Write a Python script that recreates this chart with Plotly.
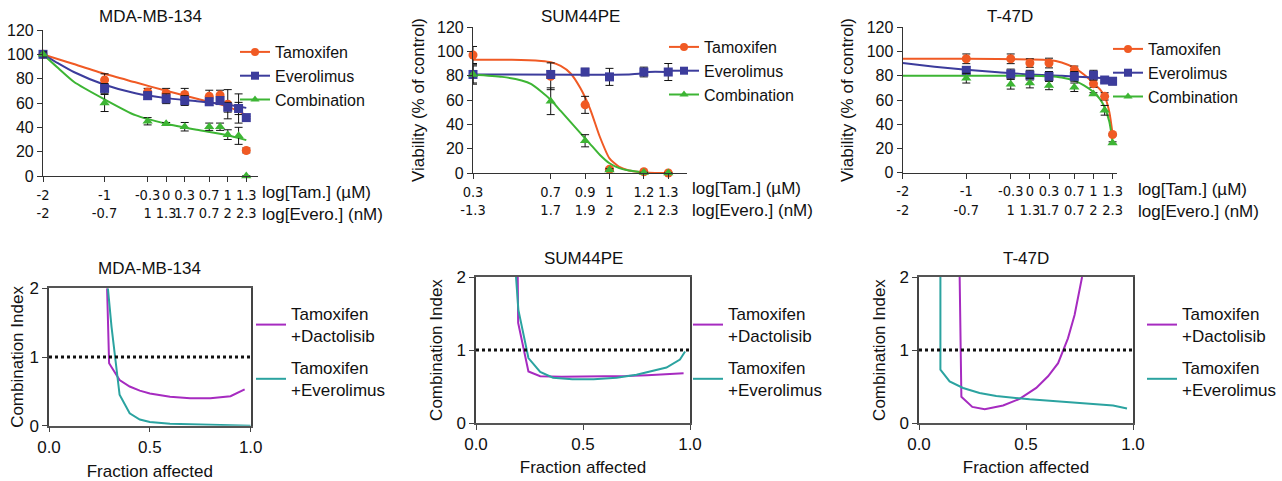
import plotly.graph_objects as go

W, H = 1282, 481
def px(x): return x / W
def py(y): return 1 - y / H

# ---------------- data: viability (top row) ----------------
PANEL_TITLES = ["MDA-MB-134", "SUM44PE", "T-47D"]

# MDA-MB-134
MDA_LOG = [-2, -1, -0.301, 0, 0.301, 0.699, 0.875, 1, 1.176, 1.301]
MDA_TAM = [100, 79, 69, 68, 67, 65.5, 66.5, 59, 55.5, 21]
MDA_TAM_ERR = [2, 5, 3, 4, 5, 5, 4, 12, 12, 2]
MDA_EVE = [100, 72, 66, 63.5, 62, 61, 62, 56.5, 55.5, 48]
MDA_EVE_ERR = [2, 4, 3, 4, 4, 3, 3, 4, 5, 1]
MDA_COM = [100, 60, 45, 43, 40.5, 40.5, 40.5, 34, 33, 0]
MDA_COM_ERR = [2, 7, 3, 1, 3.5, 3, 3, 4, 7, 0]
MDA_FIT_X = [-2, -1.75, -1.5, -1, -0.5, 0, 0.5, 1, 1.301]
MDA_FIT_TAM = [100, 96, 92, 84, 77, 70, 63.5, 57, 50]
MDA_FIT_EVE = [100, 92.5, 85.5, 75, 68, 64, 61.5, 58.5, 56]
MDA_FIT_COM = [100, 88.5, 77.5, 63, 50, 43, 38, 33.5, 29.5]
MDA_TICKVALS = [-2, -1, -0.301, 0, 0.301, 0.699, 1, 1.301]
MDA_TICK_TAM = ["-2", "-1", "-0.3", "0", "0.3", "0.7", "1", "1.3"]
MDA_TICK_EVE = ["-2", "-0.7", "1", "1.3", "1.7", "0.7", "2", "2.3"]

# SUM44PE
SUM_LOG = [0.301, 0.699, 0.875, 1, 1.176, 1.301]
SUM_TAM = [97, 79.5, 56, 3, 1, 0]
SUM_TAM_ERR = [7, 11, 7, 1, 0.5, 0]
SUM_EVE = [81, 81, 83, 79, 83, 83]
SUM_EVE_ERR = [7, 3, 3, 7, 4, 7]
SUM_COM = [81, 59, 26.5, 2.5, 0.5, 0]
SUM_COM_ERR = [8, 11, 5, 1, 0, 0]
SUM_FIT_TAM_X = [0.301, 0.5, 0.65, 0.7, 0.75, 0.8, 0.85, 0.9, 0.95, 1.0, 1.05, 1.1, 1.15, 1.2, 1.301]
SUM_FIT_TAM = [93, 93, 92, 91, 88, 82, 70, 53, 30, 12, 5, 2, 0.8, 0.3, 0]
SUM_FIT_EVE_X = [0.301, 1.1, 1.15, 1.2, 1.301]
SUM_FIT_EVE = [81, 81, 81.5, 83, 83]
SUM_FIT_COM_X = [0.301, 0.45, 0.55, 0.6, 0.65, 0.7, 0.75, 0.8, 0.85, 0.9, 0.95, 1.0, 1.05, 1.1, 1.2]
SUM_FIT_COM = [81, 79, 76, 73, 67, 60, 51, 42, 33, 24, 15, 8, 4, 2, 0]
SUM_TICKVALS = [0.301, 0.699, 0.875, 1, 1.176, 1.301]
SUM_TICK_TAM = ["0.3", "0.7", "0.9", "1", "1.2", "1.3"]
SUM_TICK_EVE = ["-1.3", "1.7", "1.9", "2", "2.1", "2.3"]

# T-47D
T47_LOG = [-1, -0.301, 0, 0.301, 0.699, 1, 1.176, 1.301]
T47_TAM = [94, 94, 90.5, 90.5, 85, 73.5, 63, 31.5]
T47_TAM_ERR = [4, 4, 3.5, 4, 3, 3, 3, 1]
T47_EVE = [84.5, 81.5, 80.5, 79.5, 79.5, 80.5, 76.5, 75.5]
T47_EVE_ERR = [3, 4, 4, 4, 4, 4, 2, 3]
T47_COM = [78, 73, 74, 72, 70.5, 65, 51.5, 24.5]
T47_COM_ERR = [4, 4, 4, 3.5, 3.5, 1, 4, 1]
T47_FIT_X = [-2, -1, 0, 0.3, 0.5, 0.7, 0.85, 1.0, 1.1, 1.176, 1.25, 1.301]
T47_FIT_TAM = [94, 94, 93.5, 93, 91, 86.5, 81, 74, 69, 63, 50, 32]
T47_FIT_COM = [80, 80, 80, 79.5, 78.5, 76, 72, 66.5, 61, 54, 42, 25]
T47_FIT_EVE_X = [-2, -1.5, -1, -0.5, 0, 0.5, 1, 1.301]
T47_FIT_EVE = [90.5, 87.5, 85, 83, 81, 80, 78.5, 77.5]
T47_TICKVALS = MDA_TICKVALS
T47_TICK_TAM = MDA_TICK_TAM
T47_TICK_EVE = MDA_TICK_EVE

SERIES = ["Tamoxifen", "Everolimus", "Combination"]
Y_TICKS = [0, 20, 40, 60, 80, 100, 120]
X_LABEL_TEXT = "log[Tam.] (µM)<br>log[Evero.] (nM)"

# ---------------- data: combination index (bottom row) ----------------
CI_NAMES = ["Tamoxifen<br>+Dactolisib", "Tamoxifen<br>+Everolimus"]
CI_THRESHOLD = 1

MDA_DAC_FA = [0.288, 0.298, 0.35, 0.4, 0.45, 0.5, 0.6, 0.7, 0.8, 0.9, 0.97]
MDA_DAC_CI = [2.0, 0.91, 0.665, 0.57, 0.51, 0.47, 0.42, 0.40, 0.40, 0.43, 0.53]
MDA_EVE_FA = [0.292, 0.31, 0.35, 0.40, 0.45, 0.5, 0.6, 0.7, 0.8, 0.9, 1.0]
MDA_EVE_CI = [2.0, 1.44, 0.45, 0.18, 0.09, 0.055, 0.03, 0.02, 0.01, 0.005, 0.0]

SUM_DAC_FA = [0.195, 0.197, 0.245, 0.30, 0.4, 0.5, 0.6, 0.7, 0.8, 0.9, 0.97]
SUM_DAC_CI = [2.0, 1.37, 0.705, 0.64, 0.635, 0.635, 0.64, 0.645, 0.655, 0.665, 0.68]
SUM_EVE_FA = [0.187, 0.198, 0.245, 0.30, 0.36, 0.45, 0.55, 0.657, 0.75, 0.81, 0.89, 0.953, 0.977]
SUM_EVE_CI = [2.0, 1.55, 0.89, 0.70, 0.62, 0.60, 0.60, 0.62, 0.66, 0.70, 0.76, 0.87, 0.98]

T47_DAC_FA = [0.19, 0.198, 0.249, 0.307, 0.393, 0.47, 0.548, 0.603, 0.65, 0.696, 0.727, 0.751, 0.762]
T47_DAC_CI = [2.0, 0.36, 0.22, 0.19, 0.24, 0.33, 0.48, 0.64, 0.82, 1.16, 1.48, 1.83, 2.0]
T47_EVE_FA = [0.1, 0.1, 0.143, 0.206, 0.283, 0.361, 0.517, 0.673, 0.829, 0.907, 0.972]
T47_EVE_CI = [2.0, 0.73, 0.57, 0.48, 0.41, 0.37, 0.325, 0.29, 0.26, 0.24, 0.20]

# ---------------- style ----------------
FONT = "Liberation Sans, Arial, Helvetica, sans-serif"
NARROW = "Liberation Sans Narrow, Arial Narrow, DejaVu Sans Condensed, Liberation Sans, Arial, sans-serif"
TXT = "#111"
C_TAM, C_EVE, C_COM = "#F05A24", "#3C3C9C", "#3DB534"
C_DAC, C_TEAL = "#A62BC0", "#2BA3A0"
SYMBOLS = ["circle", "square", "triangle-up"]
COLORS = [C_TAM, C_EVE, C_COM]

fig = go.Figure()

top = [
    dict(log=MDA_LOG, pts=[MDA_TAM, MDA_EVE, MDA_COM], err=[MDA_TAM_ERR, MDA_EVE_ERR, MDA_COM_ERR],
         fx=[MDA_FIT_X, MDA_FIT_X, MDA_FIT_X], fy=[MDA_FIT_TAM, MDA_FIT_EVE, MDA_FIT_COM],
         tv=MDA_TICKVALS, t1=MDA_TICK_TAM, t2=MDA_TICK_EVE, rng=[-2, 1.496],
         xd=[px(43), px(258.3)], yd=[py(176), py(30)], ytitle=None,
         leg=(px(235), py(35)), lab=(260, 203)),
    dict(log=SUM_LOG, pts=[SUM_TAM, SUM_EVE, SUM_COM], err=[SUM_TAM_ERR, SUM_EVE_ERR, SUM_COM_ERR],
         fx=[SUM_FIT_TAM_X, SUM_FIT_EVE_X, SUM_FIT_COM_X], fy=[SUM_FIT_TAM, SUM_FIT_EVE, SUM_FIT_COM],
         tv=SUM_TICKVALS, t1=SUM_TICK_TAM, t2=SUM_TICK_EVE, rng=[0.301, 1.397],
         xd=[px(473), px(687)], yd=[py(173), py(27)], ytitle="Viability (% of control)",
         leg=(px(664), py(30)), lab=(690, 199)),
    dict(log=T47_LOG, pts=[T47_TAM, T47_EVE, T47_COM], err=[T47_TAM_ERR, T47_EVE_ERR, T47_COM_ERR],
         fx=[T47_FIT_X, T47_FIT_EVE_X, T47_FIT_X], fy=[T47_FIT_TAM, T47_FIT_EVE, T47_FIT_COM],
         tv=T47_TICKVALS, t1=T47_TICK_TAM, t2=T47_TICK_EVE, rng=[-2, 1.375],
         xd=[px(902.7), px(1117.3)], yd=[py(172.7), py(27.3)], ytitle="Viability (% of control)",
         leg=(px(1108), py(32)), lab=(1136, 200)),
]

annotations = []
shapes = []
layout = {}

for i, p in enumerate(top, start=1):
    xa, ya = f"x{i}", f"y{i}"
    for k in range(3):
        fig.add_trace(go.Scatter(x=p["fx"][k], y=p["fy"][k], mode="lines", xaxis=xa, yaxis=ya,
                                 line=dict(color=COLORS[k], width=2, shape="spline", smoothing=0.6),
                                 showlegend=False, hoverinfo="skip"))
    for k in range(3):
        fig.add_trace(go.Scatter(x=p["log"], y=p["pts"][k], mode="markers", xaxis=xa, yaxis=ya,
                                 marker=dict(color=COLORS[k], symbol=SYMBOLS[k], size=9),
                                 error_y=dict(type="data", array=p["err"][k], color=TXT,
                                              thickness=1, width=4),
                                 cliponaxis=False, showlegend=False, name=SERIES[k]))
    lk = "legend" if i == 1 else f"legend{i}"
    for k in range(3):
        fig.add_trace(go.Scatter(x=[None], y=[None], mode="lines+markers", xaxis=xa, yaxis=ya,
                                 name=SERIES[k], legend=lk,
                                 line=dict(color=COLORS[k], width=2),
                                 marker=dict(color=COLORS[k], symbol=SYMBOLS[k], size=8)))
    ticktext = [f"{a}<br>{b}" for a, b in zip(p["t1"], p["t2"])]
    layout[f"xaxis{i}"] = dict(domain=p["xd"], anchor=ya, range=p["rng"], tickvals=p["tv"],
                               ticktext=ticktext, tickangle=0, showline=True, linecolor="#333",
                               linewidth=1.2, ticks="outside", ticklen=5, tickcolor="#333",
                               showgrid=False, zeroline=False, automargin=False,
                               tickfont=dict(family=NARROW, size=14.5, color=TXT))
    yd = dict(domain=p["yd"], anchor=xa, range=[0, 120], tickvals=Y_TICKS, showline=True,
              linecolor="#333", linewidth=1.2, ticks="outside", ticklen=5, tickcolor="#333",
              showgrid=False, zeroline=False, automargin=False,
              tickfont=dict(family=FONT, size=16, color=TXT))
    if p["ytitle"]:
        yd["title"] = dict(text=p["ytitle"], font=dict(family=FONT, size=17, color=TXT), standoff=8)
    layout[f"yaxis{i}"] = yd
    layout[lk] = dict(x=p["leg"][0], y=p["leg"][1], xanchor="left", yanchor="top",
                      bgcolor="rgba(0,0,0,0)", font=dict(family=FONT, size=16, color=TXT),
                      itemwidth=30, tracegroupgap=0)
    xc = (p["xd"][0] + p["xd"][1]) / 2
    annotations.append(dict(text=PANEL_TITLES[i - 1], x=xc, y=py(17), xref="paper", yref="paper",
                            showarrow=False, font=dict(family=FONT, size=17, color=TXT),
                            xanchor="center", yanchor="middle"))
    annotations.append(dict(text=X_LABEL_TEXT, x=px(p["lab"][0]), y=py(p["lab"][1]),
                            xref="paper", yref="paper", showarrow=False, xanchor="left",
                            yanchor="middle", align="left",
                            font=dict(family=FONT, size=17, color=TXT)))

bottom = [
    dict(fa=[MDA_DAC_FA, MDA_EVE_FA], ci=[MDA_DAC_CI, MDA_EVE_CI],
         xd=[px(49), px(250.7)], yd=[py(425.7), py(288.3)], title_y=268, standoff=1, xstand=10,
         leg=(px(251), py(296))),
    dict(fa=[SUM_DAC_FA, SUM_EVE_FA], ci=[SUM_DAC_CI, SUM_EVE_CI],
         xd=[px(476), px(690)], yd=[py(423), py(277)], title_y=258, standoff=9, xstand=8,
         leg=(px(688), py(296))),
    dict(fa=[T47_DAC_FA, T47_EVE_FA], ci=[T47_DAC_CI, T47_EVE_CI],
         xd=[px(919), px(1133)], yd=[py(423), py(277)], title_y=258, standoff=9, xstand=8,
         leg=(px(1142), py(296))),
]

for j, p in enumerate(bottom):
    i = j + 4
    xa, ya = f"x{i}", f"y{i}"
    for k, col in enumerate([C_DAC, C_TEAL]):
        fig.add_trace(go.Scatter(x=p["fa"][k], y=p["ci"][k], mode="lines", xaxis=xa, yaxis=ya,
                                 name=CI_NAMES[k], legend=f"legend{i}", legendgroup=f"g{i}{k}",
                                 line=dict(color=col, width=2)))
    shapes.append(dict(type="line", xref=xa, yref=ya, x0=0, x1=1, y0=CI_THRESHOLD, y1=CI_THRESHOLD,
                       line=dict(color=TXT, width=3, dash="dot")))
    layout[f"xaxis{i}"] = dict(domain=p["xd"], anchor=ya, range=[0, 1], tickvals=[0, 0.5, 1],
                               ticktext=["0.0", "0.5", "1.0"], showline=True, mirror=True,
                               linecolor="#555", linewidth=1.5, ticks="outside", ticklen=5,
                               tickcolor="#444", showgrid=False, zeroline=False, automargin=False,
                               tickfont=dict(family=FONT, size=17, color=TXT),
                               title=dict(text="Fraction affected", standoff=p["xstand"],
                                          font=dict(family=FONT, size=17, color=TXT)))
    layout[f"yaxis{i}"] = dict(domain=p["yd"], anchor=xa, range=[0, 2], tickvals=[0, 1, 2],
                               showline=True, mirror=True, linecolor="#444", linewidth=1.5,
                               ticks="outside", ticklen=5, tickcolor="#444", showgrid=False,
                               zeroline=False, automargin=False,
                               tickfont=dict(family=FONT, size=17, color=TXT),
                               title=dict(text="Combination Index", standoff=p["standoff"],
                                          font=dict(family=FONT, size=17, color=TXT)))
    layout[f"legend{i}"] = dict(x=p["leg"][0], y=p["leg"][1], xanchor="left", yanchor="top",
                                bgcolor="rgba(0,0,0,0)", font=dict(family=FONT, size=17, color=TXT),
                                itemwidth=30, traceorder="grouped", tracegroupgap=7)
    xc = (p["xd"][0] + p["xd"][1]) / 2
    annotations.append(dict(text=PANEL_TITLES[j], x=xc, y=py(p["title_y"]), xref="paper", yref="paper",
                            showarrow=False, font=dict(family=FONT, size=17, color=TXT),
                            xanchor="center", yanchor="middle"))

fig.update_layout(width=W, height=H, margin=dict(l=0, r=0, t=0, b=0, autoexpand=False),
                  paper_bgcolor="white", plot_bgcolor="white",
                  font=dict(family=FONT, size=16, color=TXT),
                  annotations=annotations, shapes=shapes, **layout)

fig.write_html("out.html", config={"displayModeBar": False},
               post_script="document.body.style.margin='0px';document.body.style.padding='0px';"
                           "document.documentElement.style.overflow='hidden';")
